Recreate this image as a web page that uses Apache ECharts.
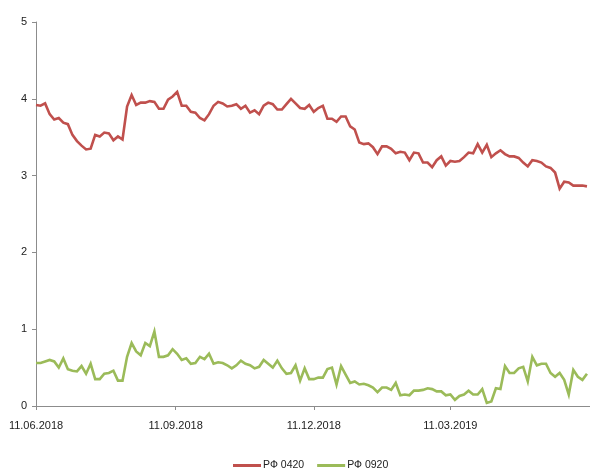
<!DOCTYPE html>
<html><head><meta charset="utf-8">
<script src="https://cdn.jsdelivr.net/npm/echarts@6/dist/echarts.min.js"></script>
<style>html,body{margin:0;padding:0;background:#fff}#c{width:590px;height:476px}</style>
</head><body><div id="c"></div>
<script>
// Sampling: one value every 3 calendar days starting 11.06.2018
const startDate = [2018, 5, 11];
const stepDays = 3;
const seriesNames = ['РФ 0420', 'РФ 0920'];
const rf0420 = [
3.92,3.91,3.94,3.80,3.73,3.75,3.69,3.67,3.53,3.45,3.39,3.34,3.35,3.53,3.51,3.56,3.55,3.46,3.51,3.47,
3.90,4.05,3.92,3.95,3.95,3.97,3.96,3.87,3.87,3.99,4.03,4.09,3.91,3.91,3.83,3.82,3.75,3.72,3.80,3.91,
3.96,3.94,3.90,3.91,3.93,3.87,3.91,3.82,3.85,3.80,3.91,3.95,3.93,3.86,3.86,3.93,4.00,3.94,3.88,3.87,
3.92,3.83,3.88,3.91,3.74,3.74,3.70,3.77,3.77,3.64,3.60,3.43,3.41,3.42,3.37,3.28,3.38,3.38,3.35,3.29,
3.31,3.30,3.20,3.30,3.29,3.17,3.17,3.11,3.20,3.25,3.13,3.19,3.18,3.19,3.24,3.30,3.29,3.41,3.30,3.40,
3.24,3.29,3.33,3.28,3.25,3.25,3.23,3.17,3.12,3.20,3.19,3.17,3.12,3.10,3.04,2.83,2.92,2.91,2.87,2.87,
2.87,2.86
];
const rf0920 = [
0.56,0.56,0.58,0.60,0.58,0.50,0.62,0.48,0.46,0.45,0.52,0.42,0.55,0.35,0.35,0.42,0.43,0.46,0.33,0.33,
0.64,0.82,0.71,0.66,0.82,0.78,0.97,0.64,0.64,0.66,0.74,0.68,0.60,0.62,0.55,0.56,0.64,0.61,0.68,0.55,
0.57,0.56,0.53,0.49,0.53,0.59,0.55,0.53,0.49,0.51,0.60,0.55,0.50,0.59,0.49,0.42,0.43,0.53,0.33,0.49,
0.35,0.35,0.37,0.37,0.48,0.50,0.28,0.52,0.41,0.30,0.32,0.28,0.29,0.27,0.24,0.18,0.24,0.24,0.21,0.30,
0.14,0.15,0.14,0.20,0.20,0.21,0.23,0.22,0.19,0.19,0.14,0.15,0.08,0.13,0.15,0.20,0.15,0.15,0.22,0.04,
0.06,0.23,0.22,0.52,0.43,0.43,0.49,0.51,0.32,0.64,0.53,0.55,0.55,0.43,0.38,0.43,0.34,0.15,0.47,0.38,
0.34,0.42
];
const tickDates = [[2018,5,11],[2018,8,11],[2018,11,11],[2019,2,11],[2019,5,11]];
const labelDates = [[2018,5,11],[2018,8,11],[2018,11,11],[2019,2,11]];
const yTicks = [0,1,2,3,4,5];

const DAY = 86400000;
const t0 = Date.UTC(startDate[0], startDate[1], startDate[2]);
const toDay = d => Math.round((Date.UTC(d[0], d[1], d[2]) - t0) / DAY);
const pair = arr => arr.map((v, i) => [i * stepDays, v]);
const pad = n => (n < 10 ? '0' : '') + n;
const fmt = day => { const d = new Date(t0 + day * DAY); return pad(d.getUTCDate()) + '.' + pad(d.getUTCMonth() + 1) + '.' + d.getUTCFullYear(); };

const font = 'Liberation Sans';
const chart = echarts.init(document.getElementById('c'));
chart.setOption({
  animation: false,
  backgroundColor: '#fff',
  grid: { left: 36, right: 0, top: 22, bottom: 70, containLabel: false },
  legend: {
    bottom: 0, left: 228, itemGap: 13, itemWidth: 28, itemHeight: 3, icon: 'rect',
    textStyle: { fontFamily: font, fontSize: 10.5, color: '#222', padding: [0, 0, 0, -3] },
    data: seriesNames
  },
  xAxis: {
    type: 'value',
    min: toDay(tickDates[0]), max: toDay(tickDates[tickDates.length - 1]),
    axisLine: { lineStyle: { color: '#8c8c8c', width: 1 } },
    axisTick: { show: true, length: 4, lineStyle: { color: '#8c8c8c' }, customValues: tickDates.map(toDay) },
    axisLabel: { customValues: labelDates.map(toDay), formatter: v => fmt(v), fontFamily: font, fontSize: 11, color: '#222', margin: 14 },
    splitLine: { show: false }
  },
  yAxis: {
    type: 'value', min: yTicks[0], max: yTicks[yTicks.length - 1], interval: 1,
    axisLine: { show: true, lineStyle: { color: '#8c8c8c', width: 1 } },
    axisTick: { show: true, length: 4, lineStyle: { color: '#8c8c8c' } },
    axisLabel: { fontFamily: font, fontSize: 11, color: '#222', margin: 9 },
    splitLine: { show: false }
  },
  series: [
    { name: seriesNames[0], type: 'line', data: pair(rf0420), symbol: 'none', color: '#C0504D', lineStyle: { width: 2.6, color: '#C0504D', join: 'miter' } },
    { name: seriesNames[1], type: 'line', data: pair(rf0920), symbol: 'none', color: '#9BBB59', lineStyle: { width: 2.6, color: '#9BBB59', join: 'miter' } }
  ]
});
</script></body></html>
